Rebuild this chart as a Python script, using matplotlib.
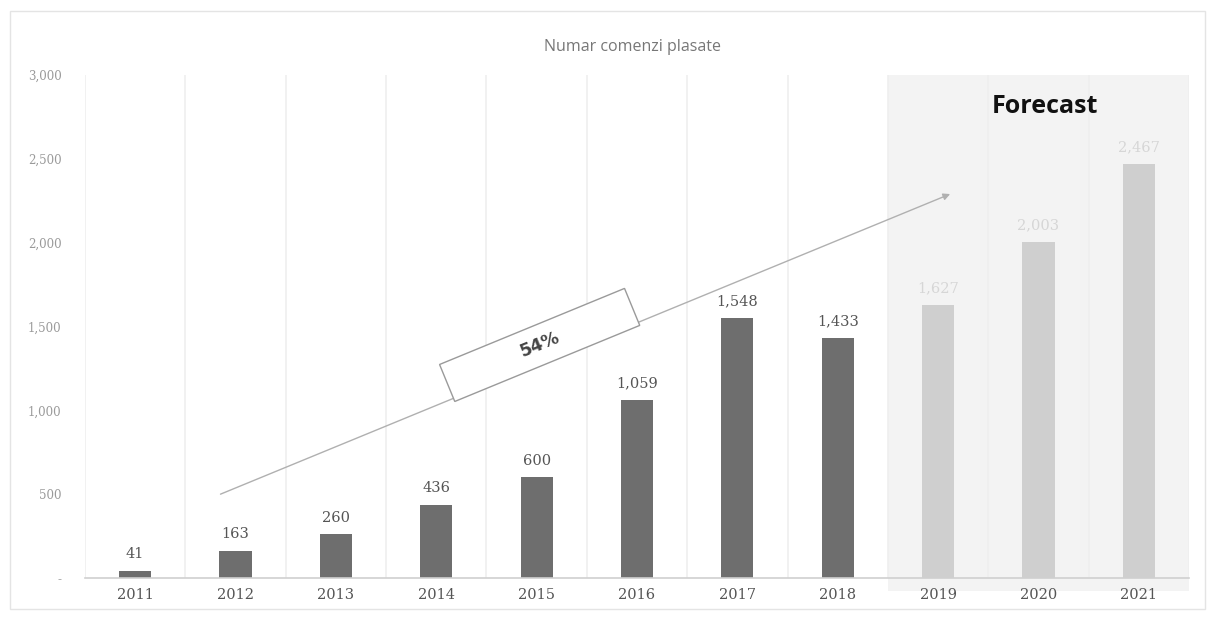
import matplotlib
matplotlib.use("Agg")
import matplotlib.pyplot as plt
import numpy as np
from matplotlib.patches import Rectangle
from matplotlib import transforms

# Orders placed per year (2019-2021 are forecasts)
years = ["2011", "2012", "2013", "2014", "2015", "2016", "2017", "2018", "2019", "2020", "2021"]
orders = [41, 163, 260, 436, 600, 1059, 1548, 1433, 1627, 2003, 2467]
is_forecast = [False] * 8 + [True] * 3
value_labels = ["41", "163", "260", "436", "600", "1,059", "1,548", "1,433", "1,627", "2,003", "2,467"]
y_ticks = [0, 500, 1000, 1500, 2000, 2500, 3000]
y_tick_labels = ["-", "500", "1,000", "1,500", "2,000", "2,500", "3,000"]
growth_label = "54%"
title = "Numar comenzi plasate"
forecast_title = "Forecast"

W, H, DPI = 1212, 617, 100
fig = plt.figure(figsize=(W / DPI, H / DPI), dpi=DPI)
fig.patch.set_facecolor("white")

ax = fig.add_axes([85 / W, 1 - 578 / H, (1189 - 85) / W, (578 - 75) / H])
ax.set_facecolor("none")
x = np.arange(len(years))
ax.set_xlim(-0.5, len(years) - 0.5)
ax.set_ylim(0, 3000)

# Shaded forecast zone
first_fc = is_forecast.index(True)
ax.axvspan(first_fc - 0.5, len(years) - 0.5, ymin=-0.025, ymax=1.0, color="#f3f3f3",
           zorder=0, clip_on=False, lw=0)

# Vertical separators between categories
for b in np.arange(-0.5, len(years), 1.0):
    ax.axvline(b, color="#efefef", lw=1.2, zorder=0.5)

colors = ["#cfcfcf" if f else "#6e6e6e" for f in is_forecast]
ax.bar(x, orders, width=0.32, color=colors, zorder=2, lw=0)

for xi, v, lab, f in zip(x, orders, value_labels, is_forecast):
    ax.annotate(lab, (xi, v), xytext=(0, 7), textcoords="offset points",
                ha="center", va="bottom", fontsize=10.5, family="DejaVu Serif",
                color="#d6d6d6" if f else "#555555")

ax.set_xticks(x)
ax.set_xticklabels(years, family="DejaVu Serif", fontsize=10.5, color="#555555")
ax.set_yticks(y_ticks)
ax.set_yticklabels(y_tick_labels, family="DejaVu Serif", fontsize=8.5, color="#9a9a9a")
ax.tick_params(length=0, pad=7)
ax.tick_params(axis="y", pad=17)
for s in ["top", "right", "left"]:
    ax.spines[s].set_visible(False)
ax.spines["bottom"].set_color("#d0d0d0")
ax.spines["bottom"].set_linewidth(1.2)

# Title and forecast caption
fig.text(632 / W, 1 - 47 / H, title, ha="center", va="center", fontsize=11.5,
         family="Open Sans", color="#777777")
ax.text(9.06, 2810, forecast_title, ha="center", va="center", fontsize=18,
        family="Open Sans", fontweight="bold", color="#111111", zorder=5)

# Growth trend arrow
start = (0.85, 500)
end = (8.12, 2290)
ax.annotate("", xy=end, xytext=start,
            arrowprops=dict(arrowstyle="-|>", color="#b0b0b0", lw=1.0,
                            mutation_scale=10, shrinkA=0, shrinkB=0), zorder=3)

# Rotated box with the growth rate, aligned with the arrow
fig.canvas.draw()
p0 = ax.transData.transform(start)
p1 = ax.transData.transform(end)
angle = np.degrees(np.arctan2(p1[1] - p0[1], p1[0] - p0[0]))
cx, cy = ax.transData.transform((4.03, 1390))
bw, bh = 200, 40
rot = transforms.Affine2D().rotate_deg_around(cx, cy, angle)
box = Rectangle((cx - bw / 2, cy - bh / 2), bw, bh, facecolor="white",
                edgecolor="#9a9a9a", lw=1.0, transform=rot, zorder=4)
fig.add_artist(box)
fig.text(cx / W, cy / H, growth_label, ha="center", va="center", rotation=angle,
         rotation_mode="anchor", fontsize=12.5, fontweight="bold",
         family="DejaVu Sans", color="#444444", zorder=5)

# Light outer frame
fig.add_artist(Rectangle((10 / W, 8 / H), 1195 / W, 598 / H, transform=fig.transFigure,
                         fill=False, edgecolor="#e4e4e4", lw=1.0))

fig.savefig("out.png", dpi=DPI, facecolor="white")
